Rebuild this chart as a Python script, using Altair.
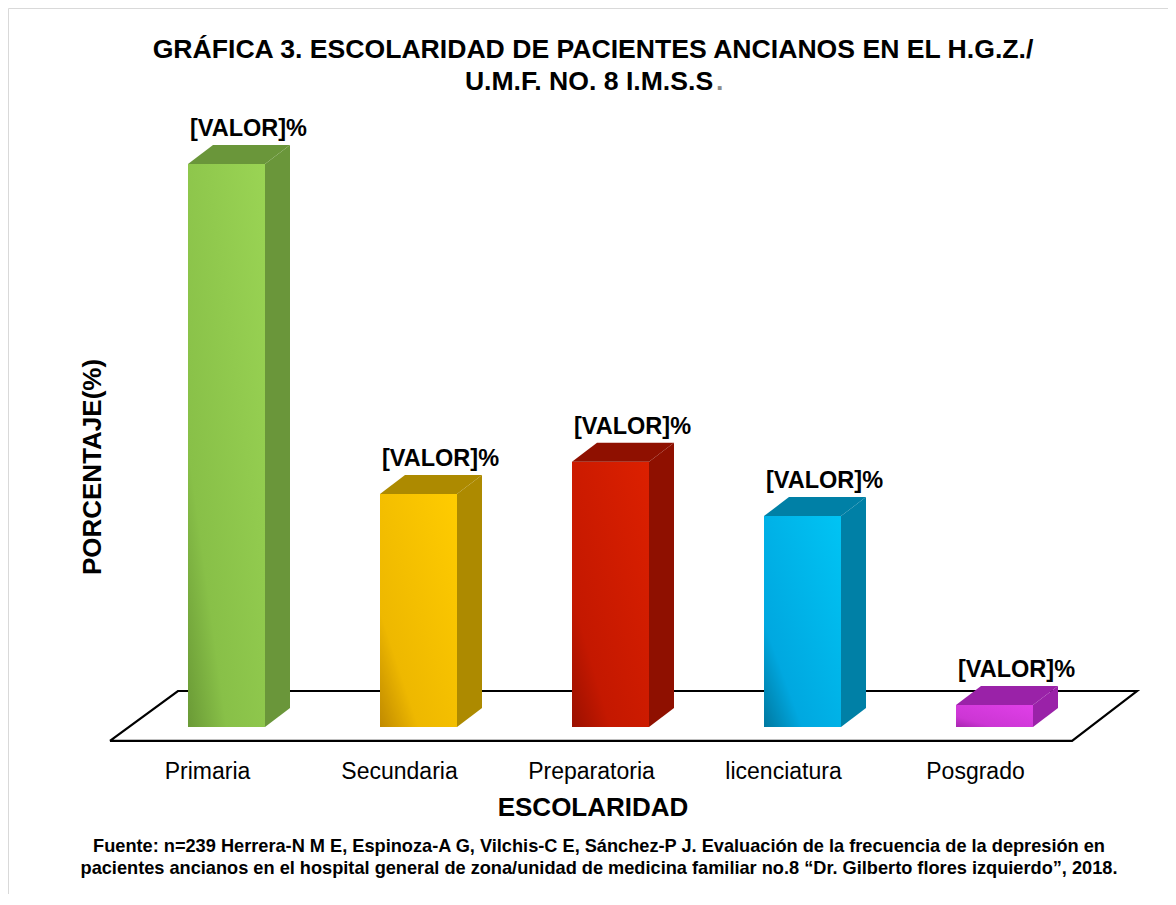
import altair as alt
import pandas as pd

# ---------------- data ----------------
categories = ["Primaria", "Secundaria", "Preparatoria", "licenciatura", "Posgrado"]
values = [43.5, 18.0, 20.5, 16.3, 1.7]
value_labels = ["[VALOR]%", "[VALOR]%", "[VALOR]%", "[VALOR]%", "[VALOR]%"]

title_lines = ["GRÁFICA 3. ESCOLARIDAD DE PACIENTES ANCIANOS EN EL H.G.Z./",
               "U.M.F. NO. 8 I.M.S.S"]
x_title = "ESCOLARIDAD"
y_title = "PORCENTAJE(%)"
source_lines = [
    "Fuente: n=239 Herrera-N M E, Espinoza-A G, Vilchis-C E, Sánchez-P J. Evaluación de la frecuencia de la depresión en",
    "pacientes ancianos en el hospital general de zona/unidad de medicina familiar no.8 “Dr. Gilberto flores izquierdo”, 2018.",
]

# ---------------- styles ----------------
front_stops = [
    ["#6a9a36", "#88c048", "#9ad454"],
    ["#c08a00", "#eeb800", "#ffcc00"],
    ["#9a1000", "#c41800", "#dc2000"],
    ["#0078a0", "#00a8e0", "#00c4f4"],
    ["#a826b0", "#cc36d4", "#e040e8"],
]
side_colors = ["#6a963a", "#ad8a00", "#8f1000", "#0080a6", "#9a22a8"]
top_colors = ["#78a83e", "#c4a000", "#a81600", "#0094c4", "#b02cb8"]

FONT = "Liberation Sans"
W, H = 1160, 886
HALF = 38.5 / 192      # half bar width (slot units)
DX = 25 / 192          # depth in x (slot units)
DY = 19 / 12.94        # depth in y (percent units)
X_DOM = [-1.138, 4.9036]
Y_DOM = [-12.906, 55.564]
FLOOR = dict(fl=-0.607, fr=4.404, bl=-0.253, br=4.742, fy=-1.08, by=2.78)

xs = alt.Scale(domain=X_DOM, nice=False, zero=False)
ys = alt.Scale(domain=Y_DOM, nice=False, zero=False)

idx = list(range(len(categories)))
base = pd.DataFrame({"cat": categories, "v": values, "i": idx, "lab": value_labels})
base["x0"] = base["i"] - HALF
base["x1"] = base["i"] + HALF
base["zero"] = 0.0
base["vt"] = base["v"] + DY

side_rows, top_rows = [], []
for i, c, v in zip(idx, categories, values):
    side_rows.append({"cat": c, "x": i + HALF, "y": 0.0, "y2": v})
    side_rows.append({"cat": c, "x": i + HALF + DX, "y": DY, "y2": v + DY})
    top_rows.append({"cat": c, "y": v, "x": i - HALF, "x2": i + HALF})
    top_rows.append({"cat": c, "y": v + DY, "x": i - HALF + DX, "x2": i + HALF + DX})
side_df = pd.DataFrame(side_rows)
top_df = pd.DataFrame(top_rows)

floor_df = pd.DataFrame({
    "x": [FLOOR["fl"], FLOOR["fr"], FLOOR["br"], FLOOR["bl"], FLOOR["fl"]],
    "y": [FLOOR["fy"], FLOOR["fy"], FLOOR["by"], FLOOR["by"], FLOOR["fy"]],
    "o": [0, 1, 2, 3, 4],
})

X = lambda f: alt.X(f, scale=xs, axis=None)
Y = lambda f: alt.Y(f, scale=ys, axis=None)

floor = alt.Chart(floor_df).mark_line(color="black", strokeWidth=2.2).encode(
    x=X("x:Q"), y=Y("y:Q"), order="o:O")

fronts = []
for i in idx:
    s = front_stops[i]
    grad = alt.Gradient(gradient="linear", x1=0, y1=1, x2=1, y2=0,
                        stops=[alt.GradientStop(offset=0, color=s[0]),
                               alt.GradientStop(offset=0.25, color=s[1]),
                               alt.GradientStop(offset=1, color=s[2])])
    fronts.append(
        alt.Chart(base[base["i"] == i]).mark_rect(color=grad).encode(
            x=X("x0:Q"), x2="x1:Q", y=Y("zero:Q"), y2="v:Q"))

sides = alt.Chart(side_df).mark_area(orient="vertical").encode(
    x=X("x:Q"), y=Y("y:Q"), y2="y2:Q", detail="cat:N",
    color=alt.Color("cat:N", scale=alt.Scale(domain=categories, range=side_colors), legend=None))

tops = alt.Chart(top_df).mark_area(orient="horizontal").encode(
    y=Y("y:Q"), x=X("x:Q"), x2="x2:Q", detail="cat:N",
    color=alt.Color("cat:N", scale=alt.Scale(domain=categories, range=top_colors), legend=None))

vlabels = alt.Chart(base).mark_text(font=FONT, fontSize=23.5, fontWeight="bold", color="black",
                                    baseline="bottom", dx=22, dy=-4).encode(
    x=X("i:Q"), y=Y("vt:Q"), text="lab:N")

clabels = alt.Chart(base).mark_text(font=FONT, fontSize=23, color="black",
                                    baseline="middle", dx=-19).encode(
    x=X("i:Q"), y=alt.value(764), text="cat:N")


def label(text, x, y, size, bold=True, angle=0, align="center", color="black"):
    return alt.Chart(pd.DataFrame({"t": [text]})).mark_text(
        font=FONT, fontSize=size, fontWeight="bold" if bold else "normal",
        color=color, align=align, baseline="middle", angle=angle).encode(
        x=alt.value(x), y=alt.value(y), text="t:N")


texts = [
    label(title_lines[0], 585, 42, 26.6),
    label(title_lines[1], 581, 74, 26.6),
    label(".", 708, 74, 26.6, align="left", color="#8c8c8c"),
    label(x_title, 585, 800, 26),
    label(y_title, 85, 459, 26, angle=270),
    label(source_lines[0], 591, 839, 18.2),
    label(source_lines[1], 591, 861, 18.2),
]

chart = alt.layer(floor, *fronts, sides, tops, vlabels, clabels, *texts).properties(
    width=W, height=H, padding=0, background="white"
).configure_view(stroke="#d9d9d9", strokeWidth=1)

chart.save("out.html", embed_options={"renderer": "svg", "actions": False})
